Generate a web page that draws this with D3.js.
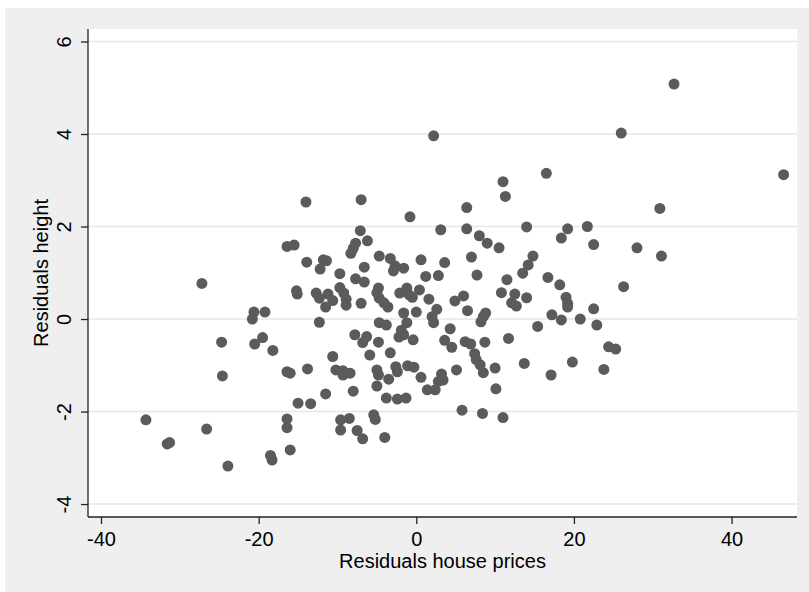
<!DOCTYPE html>
<html>
<head>
<meta charset="utf-8">
<script src="https://cdn.jsdelivr.net/npm/d3@7"></script>
<style>
  html, body { margin: 0; padding: 0; background: #ffffff; }
  svg { display: block; }
  text { font-family: "Liberation Sans", Arial, Helvetica, sans-serif; fill: #000; }
</style>
</head>
<body>
<svg id="chart" width="809" height="592"></svg>
<script>
// Residuals of house prices (x) against residuals of height (y)
const residPrice = [
  -27.2, -20.6, -19.2, -20.8, -24.7, -19.5, -20.5, -18.2, -24.6, -34.3,
  -31.6, -31.3, -26.6, -23.9, -18.5, -18.3,
  -14.0, -7.0, -0.8, 3.1, -7.1, -6.2, -7.7, -8.0, -8.3, -16.4,
  -15.5, -13.9, -11.8, -11.4, -12.2, -9.7, -6.6, -4.7, -3.3, -2.7,
  -2.9, -1.6, 0.6, 1.2, 2.8, -7.7, -6.6, -15.2, -15.1, -12.7,
  -12.3, -11.2, -10.6, -11.5, -9.7, -9.2, -8.9, -8.9, -7.0, -4.8,
  -5.0, -4.7, -4.1, -3.6, -2.1, -1.2, -0.9, -0.5, 0.4, 1.6,
  2.6, -12.3, -1.6, 0.0, 2.0, 2.2, -4.7, -3.8, -1.2, -1.9,
  -2.2, -1.6, -0.4, -7.8, -6.3, -6.8, -4.8, -10.6, -5.9, -3.3,
  -16.4, -16.0, -13.8, -10.2, -9.3, -9.3, -8.4, -5.0, -4.8, -2.6,
  -2.4, -1.1, -0.3, 0.6, -3.5, -5.0, -8.0, -11.5, -15.0, -13.4,
  -3.8, -2.4, -1.3, 1.4, 2.4, 2.8, -16.4, -16.4, -9.6, -8.5,
  -9.6, -7.5, -6.8, -5.4, -5.2, -4.0, -16.0,
  2.2, 16.5, 11.0, 11.3, 6.4, 6.4, 8.0, 9.0, 10.5, 14.0,
  19.2, 18.4, 21.7, 22.5, 14.8, 14.2, 13.5, 7.0, 3.6, 7.7,
  11.5, 16.7, 18.2, 19.0, 19.2, 19.2, 22.5, 10.8, 12.5, 12.1,
  12.7, 14.0, 6.0, 4.9, 6.5, 8.8, 8.5, 8.2, 17.2, 18.4,
  20.8, 22.9, 15.4, 4.3, 11.7, 3.6, 4.5, 6.2, 6.9, 8.7,
  7.4, 7.6, 8.1, 8.5, 10.0, 10.1, 5.1, 3.2, 3.4, 13.7,
  17.1, 19.8, 23.8, 5.8, 8.4, 11.0,
  32.7, 26.0, 46.6, 30.9, 28.0, 31.1, 26.3, 24.4, 25.3
];
const residHeight = [
  0.77, 0.15, 0.15, 0.00, -0.50, -0.40, -0.54, -0.68, -1.23, -2.18,
  -2.70, -2.67, -2.38, -3.18, -2.95, -3.05,
  2.53, 2.58, 2.21, 1.93, 1.91, 1.69, 1.64, 1.53, 1.42, 1.57,
  1.60, 1.23, 1.28, 1.26, 1.08, 0.98, 1.12, 1.36, 1.31, 1.15,
  1.04, 1.10, 1.28, 0.92, 0.94, 0.87, 0.80, 0.61, 0.54, 0.56,
  0.45, 0.54, 0.40, 0.26, 0.68, 0.56, 0.43, 0.30, 0.34, 0.67,
  0.57, 0.45, 0.35, 0.26, 0.56, 0.67, 0.52, 0.47, 0.63, 0.43,
  0.21, -0.07, 0.13, 0.15, 0.05, -0.08, -0.08, -0.13, -0.08, -0.24,
  -0.39, -0.34, -0.45, -0.34, -0.38, -0.51, -0.50, -0.81, -0.78, -0.73,
  -1.14, -1.17, -1.08, -1.10, -1.12, -1.21, -1.17, -1.10, -1.21, -1.03,
  -1.14, -1.01, -1.04, -1.26, -1.30, -1.45, -1.56, -1.62, -1.82, -1.83,
  -1.71, -1.73, -1.71, -1.53, -1.53, -1.35, -2.16, -2.35, -2.18, -2.15,
  -2.40, -2.41, -2.59, -2.07, -2.17, -2.56, -2.83,
  3.96, 3.15, 2.97, 2.65, 2.41, 1.95, 1.80, 1.64, 1.54, 1.99,
  1.95, 1.75, 2.00, 1.61, 1.36, 1.17, 0.99, 1.34, 1.22, 0.95,
  0.85, 0.90, 0.74, 0.47, 0.34, 0.26, 0.22, 0.57, 0.54, 0.35,
  0.28, 0.46, 0.50, 0.39, 0.18, 0.13, 0.05, -0.06, 0.09, -0.02,
  0.00, -0.13, -0.16, -0.21, -0.42, -0.46, -0.61, -0.49, -0.54, -0.50,
  -0.75, -0.88, -0.99, -1.16, -1.06, -1.51, -1.10, -1.19, -1.32, -0.96,
  -1.21, -0.93, -1.09, -1.97, -2.04, -2.13,
  5.08, 4.02, 3.12, 2.39, 1.54, 1.36, 0.70, -0.60, -0.65
];
const xTicks = [-40, -20, 0, 20, 40];
const yTicks = [-4, -2, 0, 2, 4, 6];
const xTitle = "Residuals house prices";
const yTitle = "Residuals height";

const points = residPrice.map((x, i) => ({ x, y: residHeight[i] }));

const svg = d3.select("#chart");
const W = 809, H = 592;
const plot = { left: 88, right: 797, top: 29, bottom: 517 };

// tick labels use a plain hyphen for negatives
const plainFormat = d => String(d);

// outer graph region
svg.append("rect")
  .attr("x", 5).attr("y", 8)
  .attr("width", W - 5).attr("height", H - 8)
  .attr("fill", "#efefef");

// plot region
svg.append("rect")
  .attr("x", plot.left).attr("y", plot.top)
  .attr("width", plot.right - plot.left).attr("height", plot.bottom - plot.top)
  .attr("fill", "#ffffff");

const x = d3.scaleLinear().domain([-41.65, 48.3]).range([plot.left, plot.right]);
const y = d3.scaleLinear().domain([-4.28, 6.27]).range([plot.bottom, plot.top]);

// horizontal grid lines
svg.append("g")
  .selectAll("line")
  .data(yTicks)
  .join("line")
  .attr("x1", plot.left).attr("x2", plot.right)
  .attr("y1", d => y(d)).attr("y2", d => y(d))
  .attr("stroke", "#e6e6e6")
  .attr("stroke-width", 1.6);

// y axis
const yAxis = svg.append("g")
  .attr("transform", `translate(${plot.left},0)`)
  .call(d3.axisLeft(y).tickValues(yTicks).tickSize(7).tickSizeOuter(0).tickFormat(plainFormat));
yAxis.select(".domain").attr("d", `M0,${plot.top}V${plot.bottom}`).attr("stroke", "#222").attr("stroke-width", 1.3);
yAxis.selectAll(".tick line").attr("stroke", "#222").attr("stroke-width", 1.3);
yAxis.selectAll(".tick text")
  .attr("x", 0).attr("y", 0).attr("dy", null)
  .attr("text-anchor", "middle")
  .attr("transform", "translate(-17,0) rotate(-90)")
  .style("font-size", "20px")
  .attr("font-family", null);

// x axis
const xAxis = svg.append("g")
  .attr("transform", `translate(0,${plot.bottom})`)
  .call(d3.axisBottom(x).tickValues(xTicks).tickSize(7).tickSizeOuter(0).tickFormat(plainFormat));
xAxis.select(".domain").attr("d", `M${plot.left},0H${plot.right}`).attr("stroke", "#222").attr("stroke-width", 1.3);
xAxis.selectAll(".tick line").attr("stroke", "#222").attr("stroke-width", 1.3);
xAxis.selectAll(".tick text")
  .attr("y", 29).attr("dy", null)
  .style("font-size", "20px")
  .attr("font-family", null);

// axis titles
svg.append("text")
  .attr("x", (plot.left + plot.right) / 2)
  .attr("y", 568)
  .attr("text-anchor", "middle")
  .style("font-size", "20px")
  .text(xTitle);

svg.append("text")
  .attr("transform", `translate(48,${(plot.top + plot.bottom) / 2}) rotate(-90)`)
  .attr("text-anchor", "middle")
  .style("font-size", "20px")
  .text(yTitle);

// scatter points
svg.append("g")
  .selectAll("circle")
  .data(points)
  .join("circle")
  .attr("cx", d => x(d.x))
  .attr("cy", d => y(d.y))
  .attr("r", 5.5)
  .attr("fill", "#5b5b5b");
</script>
</body>
</html>
